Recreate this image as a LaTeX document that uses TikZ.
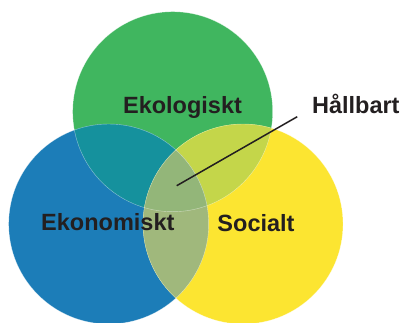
\documentclass[tikz,border=0pt]{standalone}
\usepackage{fontspec}
\setmainfont{Liberation Sans}
\usetikzlibrary{positioning}

\definecolor{ecogreen}{HTML}{40B65F}
\definecolor{econblue}{HTML}{1C7DB8}
\definecolor{socyellow}{HTML}{FCE531}
\definecolor{ecoeconmix}{HTML}{15919D}
\definecolor{ecosocmix}{HTML}{C4D64A}
\definecolor{econsocmix}{HTML}{A0B87C}
\definecolor{allmix}{HTML}{93B679}
\definecolor{labelblack}{HTML}{231F20}

\begin{document}
\begin{tikzpicture}[x=1pt, y=-1pt,
    % circles, rims and labels
    ring/.style={circle, minimum size=200pt, inner sep=0pt},
    rim/.style={draw=white, draw opacity=0.5, line width=0.4pt},
    lbl/.style={font=\fontsize{23.5}{28}\selectfont\bfseries, text=labelblack, anchor=base, inner sep=0pt}]

\useasboundingbox (0,0) rectangle (404,322);

% The three circles
\node[ring, fill=ecogreen] (eco) at (172.7,111.7) {};
\node[ring, fill=econblue] (econ) at (108.7,224) {};
\node[ring, fill=socyellow] (soc) at (243,224) {};

% Overlaps with the green circle
\begin{scope}
  \clip (eco.center) circle (100);
  \fill[ecoeconmix] (econ.center) circle (100);
  \fill[ecosocmix] (soc.center) circle (100);
\end{scope}

% Blue/yellow overlap and the common part
\begin{scope}
  \clip (econ.center) circle (100);
  \fill[econsocmix] (soc.center) circle (100);
  \clip (soc.center) circle (100);
  \fill[allmix] (eco.center) circle (100);
\end{scope}

% Faint rims
\draw[rim] (eco.center) circle (100);
\draw[rim] (econ.center) circle (100);
\draw[rim] (soc.center) circle (100);

% Labels
\node[lbl] (ekol) at (182.5,113.3) {Ekologiskt};
\node[lbl] (ekon) at (107.8,230) {Ekonomiskt};
\node[lbl] (socl) at (256,231) {Socialt};
\node[lbl] (hall) at (355.8,113.3) {Hållbart};

% Pointer to the common part
\coordinate (core) at (176.7,185.7);
\draw[labelblack, line width=1.5pt] (core) -- ([xshift=-14.6pt, yshift=-3.4pt]hall.base west);

\end{tikzpicture}
\end{document}
